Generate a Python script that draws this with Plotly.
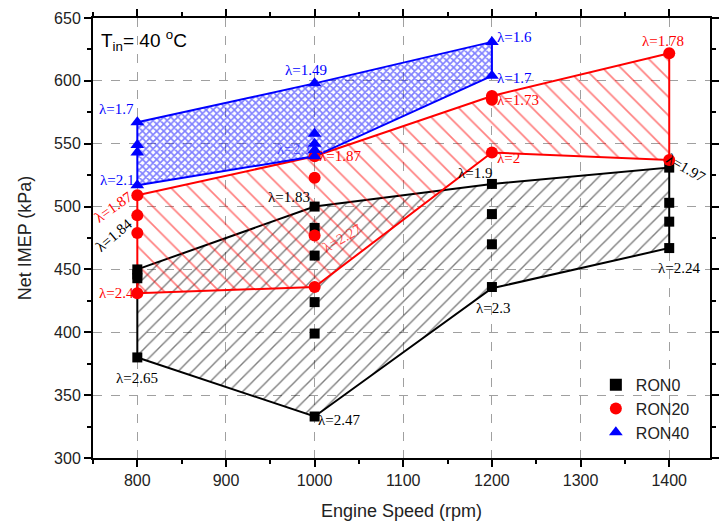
import plotly.graph_objects as go

# Engine speeds (rpm)
speeds = [800, 1000, 1200, 1400]
speeds_ron40 = [800, 1000, 1200]

# Operating envelope boundaries, Net IMEP (kPa)
ron0_upper = [450, 500, 518, 531]
ron0_lower = [380, 333, 435, 467]
ron20_upper = [509, 540, 588, 622]
ron20_lower = [431, 436, 543, 537]
ron40_upper = [567, 598, 631]
ron40_lower = [517, 540, 604]

# Measured operating points
ron0_x = [800, 800, 800, 800, 1000, 1000, 1000, 1000, 1000, 1000, 1200, 1200, 1200, 1200, 1400, 1400, 1400, 1400]
ron0_y = [450, 446, 443, 380, 500, 483, 461, 424, 399, 333, 518, 494, 470, 436, 531, 503, 488, 467]
ron20_x = [800, 800, 800, 800, 1000, 1000, 1000, 1000, 1200, 1200, 1200, 1400, 1400]
ron20_y = [509, 493, 479, 431, 540, 523, 477, 436, 588, 585, 543, 622, 537]
ron40_x = [800, 800, 800, 800, 1000, 1000, 1000, 1000, 1000, 1200, 1200]
ron40_y = [567, 549, 543, 517, 598, 558, 550, 545, 540, 631, 604]

# Lambda labels: (text, x, y, color, angle, xanchor)
lambda_labels = [
    ("λ=1.7", 799, 578, "blue", 0, "right"),
    ("λ=2.1", 799, 521, "blue", 0, "right"),
    ("λ=1.49", 990, 609, "blue", 0, "center"),
    ("λ=2.1", 998, 546, "rgba(0,0,255,0.55)", 0, "right"),
    ("λ=1.6", 1204, 635, "blue", 0, "left"),
    ("λ=1.7", 1204, 602, "blue", 0, "left"),
    ("λ=1.87", 773, 500, "red", -35, "center"),
    ("λ=1.87", 1003, 540, "red", 0, "left"),
    ("λ=2.4", 799, 431, "red", 0, "right"),
    ("λ=2.27", 1031, 475, "rgba(255,0,0,0.7)", -30, "center"),
    ("λ=1.73", 1204, 585, "red", 0, "left"),
    ("λ=2", 1204, 539, "red", 0, "left"),
    ("λ=1.78", 1393, 632, "red", 0, "center"),
    ("λ=1.84", 774, 477, "black", -40, "center"),
    ("λ=2.65", 800, 364, "black", 0, "center"),
    ("λ=1.83", 997, 508, "black", 0, "right"),
    ("λ=2.47", 1002, 330, "black", 0, "left"),
    ("λ=1.9", 1202, 527, "black", 0, "right"),
    ("λ=2.3", 1201, 419, "black", 0, "center"),
    ("λ=1.97", 1419, 531, "black", 30, "center"),
    ("λ=2.24", 1411, 451, "black", 0, "center"),
]


def envelope(xs, upper, lower):
    px = list(xs) + list(xs[::-1]) + [xs[0]]
    py = list(upper) + list(lower[::-1]) + [upper[0]]
    return px, py


fig = go.Figure()

envelopes = [
    (speeds, ron0_upper, ron0_lower, "black", "/", 10, 0.14),
    (speeds, ron20_upper, ron20_lower, "red", "\\", 13, 0.13),
    (speeds_ron40, ron40_upper, ron40_lower, "blue", "x", 5, 0.55),
]
for xs, up, lo, col, shape, size, sol in envelopes:
    px, py = envelope(xs, up, lo)
    fig.add_trace(go.Scatter(
        x=px, y=py, mode="lines", fill="toself",
        line=dict(color=col, width=2),
        fillcolor="rgba(0,0,0,0)",
        fillpattern=dict(shape=shape, fgcolor=col, bgcolor="rgba(0,0,0,0)",
                         size=size, solidity=sol),
        showlegend=False, hoverinfo="skip",
    ))

fig.add_trace(go.Scatter(x=ron0_x, y=ron0_y, mode="markers", name="RON0",
                         marker=dict(symbol="square", size=10, color="black")))
fig.add_trace(go.Scatter(x=ron20_x, y=ron20_y, mode="markers", name="RON20",
                         marker=dict(symbol="circle", size=12, color="red")))
fig.add_trace(go.Scatter(x=ron40_x, y=ron40_y, mode="markers", name="RON40",
                         marker=dict(symbol="triangle-up", size=12, color="blue")))

annotations = []
for text, x, y, col, ang, xa in lambda_labels:
    annotations.append(dict(
        x=x, y=y, text=text, showarrow=False, textangle=ang,
        xanchor=xa, yanchor="middle",
        font=dict(family="Liberation Serif, Times New Roman, serif", size=15, color=col),
    ))
annotations.append(dict(
    x=757, y=632, text="T<sub>in</sub>= 40 <sup>o</sup>C", showarrow=False,
    xanchor="left", yanchor="middle",
    font=dict(family="Liberation Sans, Arial, sans-serif", size=19, color="black"),
))

axis_common = dict(
    showline=True, linecolor="black", linewidth=2, mirror="ticks",
    ticks="outside", ticklen=7, tickwidth=1.5, tickcolor="black",
    showgrid=True, gridcolor="#a0a0a0", griddash="dash", gridwidth=1,
    zeroline=False,
    tickfont=dict(family="Liberation Sans, Arial, sans-serif", size=16, color="#222"),
)

fig.update_layout(
    width=719, height=531,
    margin=dict(l=93, r=0, t=18, b=73),
    plot_bgcolor="white", paper_bgcolor="white",
    annotations=annotations,
    legend=dict(x=0.815, y=0.205, xanchor="left", yanchor="top",
                bgcolor="rgba(0,0,0,0)", borderwidth=0,
                font=dict(family="Liberation Sans, Arial, sans-serif", size=16, color="#222"),
                itemsizing="constant", tracegroupgap=0),
    xaxis=dict(axis_common, range=[750, 1446], dtick=100, tick0=800,
               minor=dict(ticks="outside", ticklen=4, dtick=50, tick0=750, tickcolor="black"),
               title=dict(text="Engine Speed (rpm)", standoff=16,
                          font=dict(family="Liberation Sans, Arial, sans-serif", size=18, color="#222"))),
    yaxis=dict(axis_common, range=[300, 650], dtick=50,
               minor=dict(ticks="outside", ticklen=4, dtick=25, tickcolor="black"),
               title=dict(text="Net IMEP (kPa)", standoff=18,
                          font=dict(family="Liberation Sans, Arial, sans-serif", size=18, color="#222"))),
)

fig.write_html("out.html")
